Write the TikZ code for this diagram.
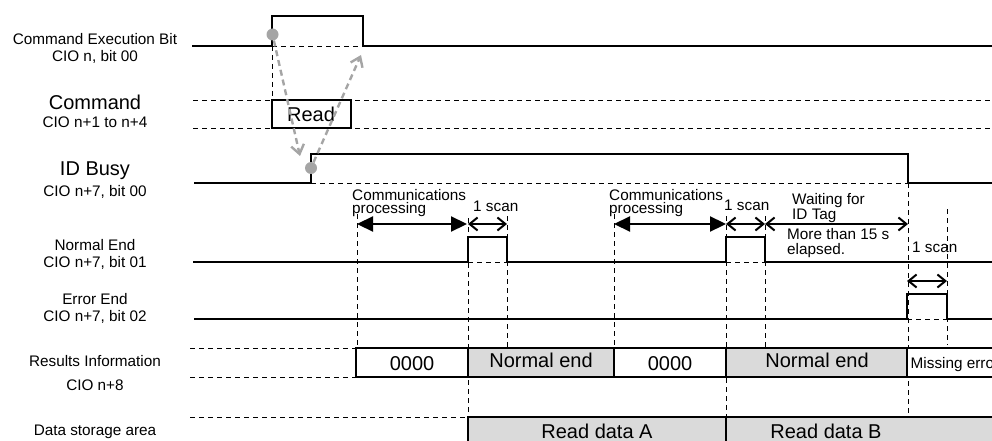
\documentclass[tikz,border=0pt]{standalone}
\usepackage{fontspec}
\setmainfont{Liberation Sans}
\usetikzlibrary{arrows.meta}
\definecolor{dotgray}{RGB}{165,165,165}
\definecolor{boxgray}{RGB}{218,218,218}
\tikzset{
  sig/.style={line width=2.5pt, line join=miter},
  guide/.style={line width=0.9pt, dash pattern=on 5pt off 4pt},
  lbl/.style={font=\fontsize{15.3}{17}\selectfont, inner sep=0pt, anchor=base},
  lblw/.style={font=\fontsize{15.3}{17}\selectfont, inner sep=0pt, anchor=base west},
  biglbl/.style={font=\fontsize{20}{22}\selectfont, inner sep=0pt, anchor=base},
  valbox/.style={draw, line width=2.5pt, fill=white},
  grayval/.style={draw, line width=2.5pt, fill=boxgray},
  fatarrow/.style={line width=2.2pt, {Triangle[length=16pt,width=15pt]}-{Triangle[length=16pt,width=15pt]}},
  scanarrow/.style={line width=2pt, {Straight Barb[length=8pt,width=13pt]}-{Straight Barb[length=8pt,width=13pt]}},
  grayarrow/.style={draw=dotgray, line width=2.4pt, dash pattern=on 6pt off 4pt, -{Straight Barb[length=9pt,width=13pt]}},
  gdot/.style={circle, fill=dotgray, inner sep=0pt, minimum size=12pt},
}
\begin{document}
\begin{tikzpicture}[x=1pt,y=-1pt]
\useasboundingbox (0,0) rectangle (992,441);
\clip (0,0) rectangle (992,441);

% ---------- left labels ----------
\node[lbl] (l1a) at (95,45) {Command Execution Bit};
\node[lbl] (l1b) at (95,61.7) {CIO n, bit 00};
\node[biglbl] (l2a) at (95,110) {Command};
\node[lbl] (l2b) at (95,128) {CIO n+1 to n+4};
\node[biglbl] (l3a) at (95,175) {ID Busy};
\node[lbl] (l3b) at (95,196) {CIO n+7, bit 00};
\node[lbl] (l4a) at (95,250) {Normal End};
\node[lbl] (l4b) at (95,267) {CIO n+7, bit 01};
\node[lbl] (l5a) at (95,304) {Error End};
\node[lbl] (l5b) at (95,321) {CIO n+7, bit 02};
\node[lbl] (l6a) at (95,366) {Results Information};
\node[lbl] (l6b) at (95,390) {CIO n+8};
\node[lbl] (l7a) at (95,435) {Data storage area};

% ---------- thin dashed guides ----------
\draw[guide] (272,46) -- (363,46);
\draw[guide] (272,46) -- (272,100);
\draw[guide] (193,100) -- (992,100);
\draw[guide] (193,128) -- (992,128);
\draw[guide] (311,183) -- (908,183);
\draw[guide] (468,262) -- (507,262);
\draw[guide] (726,262) -- (765,262);
\draw[guide] (907,319) -- (947,319);
\draw[guide] (190,348) -- (356,348);
\draw[guide] (190,377) -- (356,377);
\draw[guide] (190,417) -- (468,417);
% verticals
\draw[guide] (357,214) -- (357,348);
\draw[guide] (468,218) -- (468,417);
\draw[guide] (507,216) -- (507,348);
\draw[guide] (614,214) -- (614,348);
\draw[guide] (726,216) -- (726,417);
\draw[guide] (765,216) -- (765,348);
\draw[guide] (908,183) -- (908,417);
\draw[guide] (947,209) -- (947,345);

% ---------- signals ----------
\draw[sig] (192,46) -- (272,46) -- (272,16) -- (363,16) -- (363,46) -- (992,46);
\draw[sig] (194,183) -- (311,183) -- (311,154) -- (908,154) -- (908,183) -- (992,183);
\draw[sig] (193,262) -- (468,262) -- (468,237) -- (507,237) -- (507,262) -- (726,262)
   -- (726,237) -- (765,237) -- (765,262) -- (992,262);
\draw[sig] (194,319) -- (907,319) -- (907,294) -- (947,294) -- (947,319) -- (992,319);

% Command box
\draw[valbox] (272,100) rectangle (351,128);
\node[biglbl] (read) at (311,121.5) {Read};

% results boxes
\draw[valbox] (356,348) rectangle (468,377);
\draw[grayval] (468,348) rectangle (614,377);
\draw[valbox] (614,348) rectangle (726,377);
\draw[grayval] (726,348) rectangle (907,377);
\draw[valbox] (907,348) rectangle (1000,377);
\node[biglbl] (r1) at (412,370) {0000};
\node[biglbl] (r2) at (541,367) {Normal end};
\node[biglbl] (r3) at (670,370) {0000};
\node[biglbl] (r4) at (817,367) {Normal end};
\node[lblw] (r5) at (910.5,368) {Missing error};

% data boxes
\draw[grayval] (468,417) rectangle (726,470);
\draw[grayval] (726,417) rectangle (1000,470);
\node[biglbl] (d1) at (597,438.5) {Read data A};
\node[biglbl] (d2) at (826,438.5) {Read data B};

% ---------- annotations ----------
\node[lblw] (c1a) at (352,200) {Communications};
\node[lblw] (c1b) at (352,213.3) {processing};
\node[lblw] (s1) at (473,211) {1 scan};
\node[lblw] (c2a) at (609,200) {Communications};
\node[lblw] (c2b) at (609,213.3) {processing};
\node[lblw] (s2) at (724,210.7) {1 scan};
\node[lblw] (w1) at (792,204) {Waiting for};
\node[lblw] (w2) at (792,219) {ID Tag};
\node[lblw] (m1) at (787,239) {More than 15 s};
\node[lblw] (m2) at (787,254) {elapsed.};
\node[lblw] (s3) at (912,252) {1 scan};

\coordinate (a1l) at (357,224); \coordinate (a1r) at (467,224);
\coordinate (a2l) at (614,224); \coordinate (a2r) at (726,224);
\coordinate (b1l) at (468,224); \coordinate (b1r) at (507,224);
\coordinate (b2l) at (726,224); \coordinate (b2r) at (765,224);
\coordinate (b3l) at (765,224); \coordinate (b3r) at (908,224);
\coordinate (b4l) at (907,281); \coordinate (b4r) at (947,281);
\draw[fatarrow] (a1l) -- (a1r);
\draw[fatarrow] (a2l) -- (a2r);
\draw[scanarrow] (b1l) -- (b1r);
\draw[scanarrow] (b2l) -- (b2r);
\draw[scanarrow] (b3l) -- (b3r);
\draw[scanarrow] (b4l) -- (b4r);

% gray handshake arrows
\node[gdot] (dot1) at (272.5,34.5) {};
\node[gdot] (dot2) at (311,168) {};
\coordinate (tip1) at (300,156);
\coordinate (tip2) at (361,55);
\draw[grayarrow] (dot1) -- (tip1);
\draw[grayarrow] (dot2) -- (tip2);
\end{tikzpicture}
\end{document}
